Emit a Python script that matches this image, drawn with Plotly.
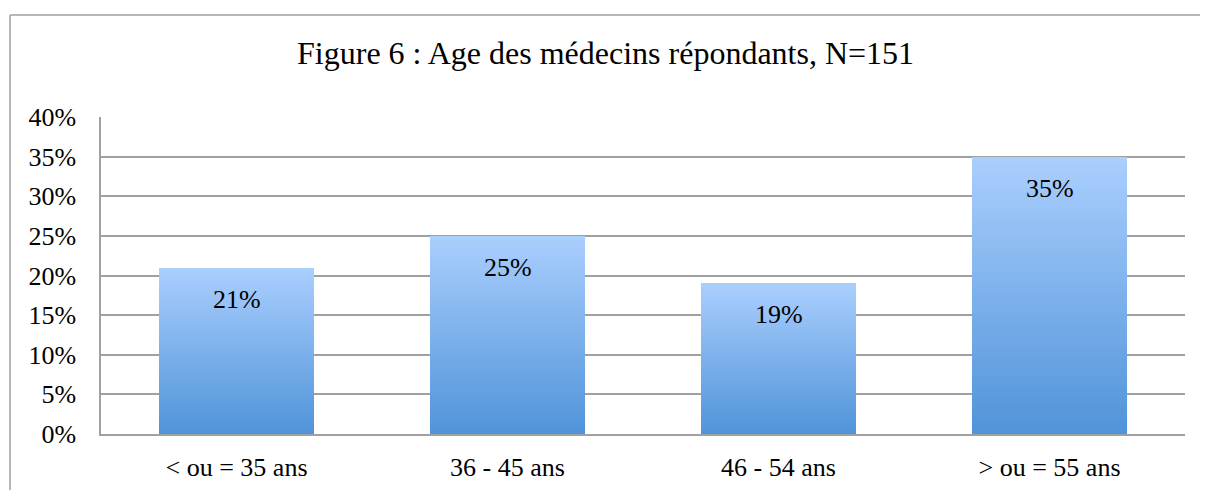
import plotly.graph_objects as go

categories = ["< ou = 35 ans", "36 - 45 ans", "46 - 54 ans", "> ou = 55 ans"]
values = [21, 25, 19, 35]
y_ticks = [0, 5, 10, 15, 20, 25, 30, 35, 40]
title_text = "Figure 6 : Age des médecins répondants, N=151"

FONT = "Liberation Serif"
TOP = (170, 206, 254)
BOT = (78, 147, 216)
N = 48
BAR_W = 0.575

fig = go.Figure()

# gradient bars: overlaid bars of decreasing fraction of each value
for k in range(N):
    f = 1 - k / N
    c = tuple(int(round(BOT[i] + (TOP[i] - BOT[i]) * f)) for i in range(3))
    fig.add_trace(go.Bar(
        x=categories, y=[v * f for v in values], width=BAR_W,
        marker=dict(color="rgb(%d,%d,%d)" % c, line=dict(width=0)),
        hoverinfo="skip", showlegend=False,
    ))

for cat, v in zip(categories, values):
    fig.add_annotation(x=cat, y=v, text=f"{v}%", showarrow=False,
                       yanchor="top", yshift=-15,
                       font=dict(family=FONT, size=26, color="black"))

# outer chart frame (top and left edges visible in the reference)
fig.add_shape(type="line", xref="paper", yref="paper",
              x0=-0.0839, y0=1.322, x1=1.3, y1=1.322,
              line=dict(color="#a0a0a0", width=1.5), layer="below")
fig.add_shape(type="line", xref="paper", yref="paper",
              x0=-0.0839, y0=1.322, x1=-0.0839, y1=-0.6,
              line=dict(color="#a0a0a0", width=1.5), layer="below")

fig.update_layout(
    width=1200, height=482,
    margin=dict(l=93, r=23, t=109, b=56, autoexpand=False),
    paper_bgcolor="white", plot_bgcolor="white",
    barmode="overlay", bargap=0,
    title=dict(text=title_text, x=0.498, xanchor="center",
               y=1 - 45 / 482, yanchor="middle", yref="container",
               font=dict(family=FONT, size=32, color="black")),
    font=dict(family=FONT, size=26, color="black"),
    xaxis=dict(showline=True, linecolor="#a0a0a0", linewidth=1.5,
               showgrid=False, ticks="outside", ticklen=9,
               tickcolor="rgba(0,0,0,0)", automargin=False,
               tickfont=dict(family=FONT, size=26, color="black")),
    yaxis=dict(range=[0, 40], tickvals=y_ticks,
               ticktext=[f"{t}%" for t in y_ticks],
               showline=True, linecolor="#a0a0a0", linewidth=1.5,
               showgrid=True, gridcolor="#a0a0a0", gridwidth=1.5,
               zeroline=False, ticks="outside", ticklen=18,
               tickcolor="rgba(0,0,0,0)", automargin=False,
               tickfont=dict(family=FONT, size=26, color="black")),
)

fig.write_html("out.html")
